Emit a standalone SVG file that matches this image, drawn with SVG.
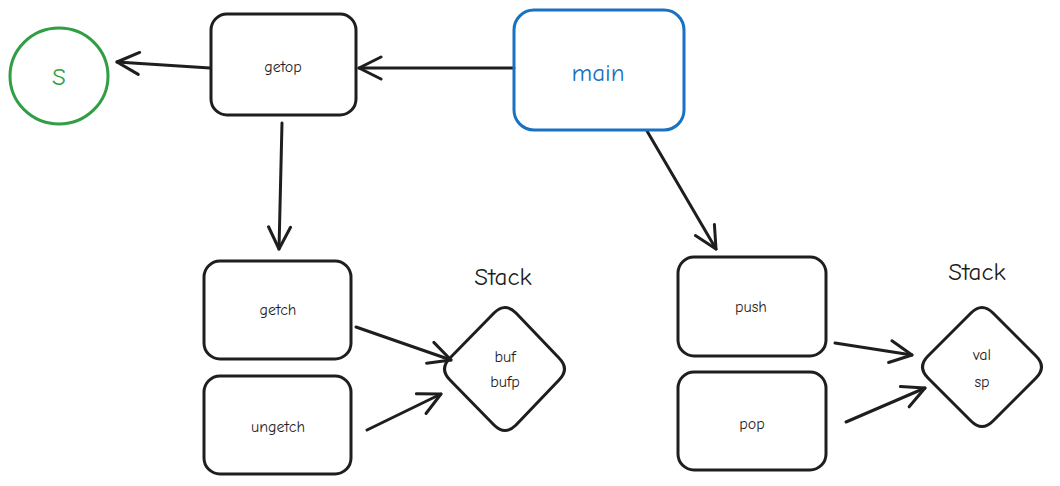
<svg xmlns="http://www.w3.org/2000/svg" width="1060" height="486" viewBox="0 0 1060 486">
<defs>
<style>
.box{fill:none;stroke:#1e1e1e;stroke-width:3}
.t{font-family:"Comic Neue","Open Sans","Liberation Sans",sans-serif;fill:#1e1e1e;text-anchor:middle;dominant-baseline:central}
.s{font-size:16px}
.big{font-size:25px}
.edge{fill:none;stroke:#1e1e1e;stroke-width:3;stroke-linecap:round}
</style>
<marker id="ah" markerWidth="34" markerHeight="34" refX="24" refY="14" orient="auto" markerUnits="userSpaceOnUse" viewBox="0 0 34 28">
<path d="M2 3 L24 14 L2 25" fill="none" stroke="#1e1e1e" stroke-width="3" stroke-linecap="round" stroke-linejoin="round"/>
</marker>
</defs>
<rect width="1060" height="486" fill="#ffffff"/>
<g id="connectors">
<path class="edge" d="M514 68 L359 68" marker-end="url(#ah)"/>
<path class="edge" d="M210 68 L117 62" marker-end="url(#ah)"/>
<path class="edge" d="M282 123 L279 249" marker-end="url(#ah)"/>
<path class="edge" d="M647 131 L716 249" marker-end="url(#ah)"/>
<path class="edge" d="M356 327 L451 360" marker-end="url(#ah)"/>
<path class="edge" d="M367 430 L441 394" marker-end="url(#ah)"/>
<path class="edge" d="M835 343 L912 355" marker-end="url(#ah)"/>
<path class="edge" d="M846 422 L925 388" marker-end="url(#ah)"/>
</g>
<g id="node-s">
<ellipse cx="59" cy="76" rx="49" ry="48" fill="none" stroke="#2f9e44" stroke-width="3"/>
<text class="t big" x="59" y="76" style="fill:#2f9e44">S</text>
</g>
<g id="node-getop">
<rect class="box" x="211" y="14" width="145" height="101" rx="16"/>
<text class="t s" x="283" y="67">getop</text>
</g>
<g id="node-main">
<rect x="514" y="10" width="170" height="120" rx="20" fill="none" stroke="#1971c2" stroke-width="3"/>
<text class="t big" x="598" y="72" style="fill:#1971c2">main</text>
</g>
<g id="node-getch">
<rect class="box" x="204" y="261" width="147" height="98" rx="16"/>
<text class="t s" x="278" y="310">getch</text>
</g>
<g id="node-ungetch">
<rect class="box" x="204" y="376" width="147" height="98" rx="16"/>
<text class="t s" x="278" y="427">ungetch</text>
</g>
<g id="node-stack1">
<text class="t big" x="503" y="276">Stack</text>
<path class="box" d="M494 313 Q505 302 516 313 L559 358 Q570 369 559 380 L516 425 Q505 436 494 425 L450 380 Q439 369 450 358 Z" stroke-linejoin="round"/>
<text class="t s" x="505" y="357">buf</text>
<text class="t s" x="505" y="382">bufp</text>
</g>
<g id="node-push">
<rect class="box" x="678" y="257" width="148" height="99" rx="16"/>
<text class="t s" x="751" y="307">push</text>
</g>
<g id="node-pop">
<rect class="box" x="678" y="372" width="148" height="98" rx="16"/>
<text class="t s" x="752" y="424">pop</text>
</g>
<g id="node-stack2">
<text class="t big" x="977" y="271">Stack</text>
<path class="box" d="M971 313 Q982 302 993 313 L1036 356 Q1047 367 1036 378 L993 421 Q982 432 971 421 L928 378 Q917 367 928 356 Z" stroke-linejoin="round"/>
<text class="t s" x="982" y="355">val</text>
<text class="t s" x="982" y="382">sp</text>
</g>
</svg>
